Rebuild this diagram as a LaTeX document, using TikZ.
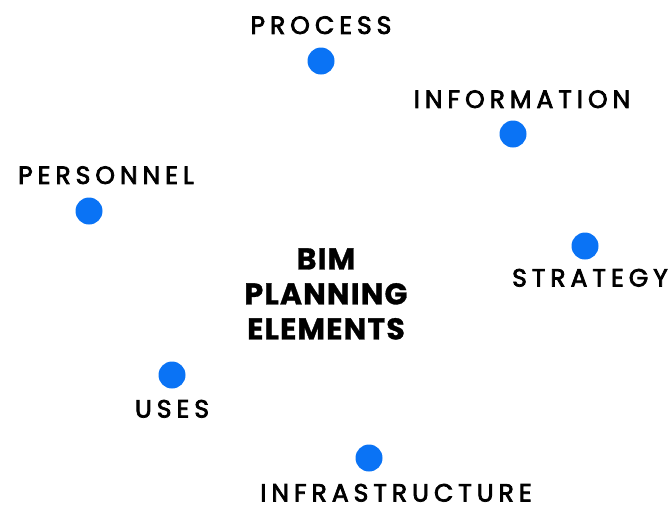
\documentclass[tikz,border=0pt]{standalone}
\usepackage{fontspec}
\setmainfont{Poppins}
\newfontfamily\elemfont{Poppins}[LetterSpace=20,FakeBold=3]
\newfontfamily\bimfont{Poppins Bold}[LetterSpace=4,FakeBold=1]
\usepackage{xcolor}
\usetikzlibrary{positioning}
\definecolor{dotblue}{RGB}{10,115,245}

\begin{document}
\begin{tikzpicture}[x=1pt,y=-1pt,node distance=14pt,
  dot/.style={circle,fill=dotblue,inner sep=0pt,minimum size=27pt},
  elem/.style={inner sep=0pt,font=\elemfont\fontsize{25}{25}\selectfont},
  title/.style={align=center,font=\bimfont\fontsize{30}{35}\selectfont}]
			\useasboundingbox (0,0) rectangle (672,509);
			\node[title] (bim) at (326,294) {BIM\\PLANNING\\ELEMENTS};

			\node[dot] (proc)  at (321,61)  {};
			\node[dot] (info)  at (513,134) {};
			\node[dot] (pers)  at (89,211)  {};
			\node[dot] (strat) at (585,246) {};
			\node[dot] (uses)  at (172,375) {};
			\node[dot] (infra) at (369,458) {};

			\node[elem] [above=13pt of proc] {PROCESS};
			\node[elem] [above=12pt of info,xshift=9pt] {INFORMATION};
			\node[elem] [above=13pt of pers,xshift=17pt] {PERSONNEL};
			\node[elem] [below=9pt of strat,xshift=5pt] {STRATEGY};
			\node[elem] [below=11pt of uses] {USES};
			\node[elem] [below=12pt of infra,xshift=27pt] {INFRASTRUCTURE};
\end{tikzpicture}
\end{document}
